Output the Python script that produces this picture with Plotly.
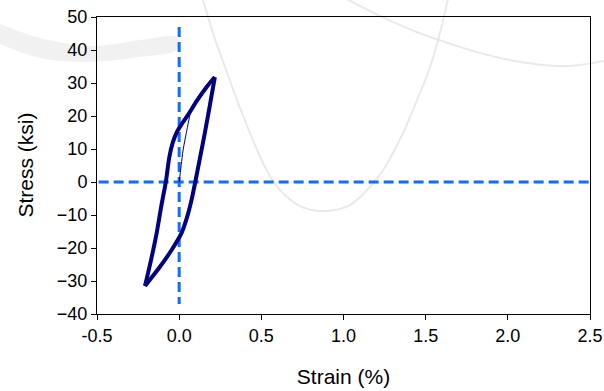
import plotly.graph_objects as go

# Hysteresis loop: loading branch (trough -> peak)
load_strain = [-0.208, -0.171, -0.137, -0.111, -0.081, -0.060, -0.040, -0.015, 0.020, 0.060, 0.106, 0.166, 0.217]
load_stress = [-31.5, -23.6, -15.5, -7.9, 0.1, 7.5, 11.8, 15.0, 17.9, 20.8, 24.5, 28.7, 31.8]
# Unloading branch (peak -> trough)
unload_strain = [0.217, 0.187, 0.156, 0.127, 0.098, 0.075, 0.049, 0.014, -0.046, -0.117, -0.208]
unload_stress = [31.8, 23.3, 14.8, 7.4, 0.0, -5.5, -10.5, -15.5, -20.6, -25.7, -31.5]
# Initial monotonic loading (thin line)
init_strain = [0.0, 0.012, 0.024, 0.035, 0.055, 0.070]
init_stress = [0.0, 5.0, 9.7, 12.7, 17.8, 21.5]

# Reference (zero) lines
vline_strain = [0.0, 0.0]
vline_stress = [47.0, -37.0]
hline_strain = [-0.49, 2.5]
hline_stress = [0.0, 0.0]

x_ticks = [-0.5, 0.0, 0.5, 1.0, 1.5, 2.0, 2.5]
x_labels = ["-0.5", "0.0", "0.5", "1.0", "1.5", "2.0", "2.5"]
y_ticks = [-40, -30, -20, -10, 0, 10, 20, 30, 40, 50]

NAVY = "#000080"
BLUE = "#0f6dff"

fig = go.Figure()
fig.add_trace(go.Scatter(x=hline_strain, y=hline_stress, mode="lines",
                         line=dict(color=BLUE, width=3, dash="10px,5px"), showlegend=False))
fig.add_trace(go.Scatter(x=vline_strain, y=vline_stress, mode="lines",
                         line=dict(color=BLUE, width=3, dash="10px,5px"), showlegend=False))
fig.add_trace(go.Scatter(x=init_strain, y=init_stress, mode="lines",
                         line=dict(color=NAVY, width=1, shape="spline"), showlegend=False))
fig.add_trace(go.Scatter(x=load_strain, y=load_stress,
                         mode="lines", line=dict(color=NAVY, width=4, shape="spline", smoothing=0.8),
                         showlegend=False))
fig.add_trace(go.Scatter(x=unload_strain, y=unload_stress,
                         mode="lines", line=dict(color=NAVY, width=4, shape="spline", smoothing=0.8),
                         showlegend=False))

# faint watermark decoration (paper coordinates, smoothed)
def smooth(pts, n=8):
    out = []
    m = len(pts)
    for i in range(m - 1):
        p0 = pts[max(i - 1, 0)]
        p1 = pts[i]
        p2 = pts[i + 1]
        p3 = pts[min(i + 2, m - 1)]
        for k in range(n):
            t = k / n
            t2, t3 = t * t, t * t * t
            x = 0.5 * ((2 * p1[0]) + (-p0[0] + p2[0]) * t + (2 * p0[0] - 5 * p1[0] + 4 * p2[0] - p3[0]) * t2
                       + (-p0[0] + 3 * p1[0] - 3 * p2[0] + p3[0]) * t3)
            y = 0.5 * ((2 * p1[1]) + (-p0[1] + p2[1]) * t + (2 * p0[1] - 5 * p1[1] + 4 * p2[1] - p3[1]) * t2
                       + (-p0[1] + 3 * p1[1] - 3 * p2[1] + p3[1]) * t3)
            out.append((x, y))
    out.append(pts[-1])
    return out


def P(pts):
    L, T, W, H = 97, 17, 493, 297
    out = []
    for i, (x, y) in enumerate(smooth(pts)):
        xp = (x - L) / W
        yp = (T + H - y) / H
        out.append(("M" if i == 0 else "L") + f"{xp:.4f},{yp:.4f}")
    return " ".join(out)

wm_color = "rgba(215,215,215,0.55)"
parab = [(200, -10), (213, 33), (225, 67), (237, 100), (250, 133), (265, 167), (280, 190),
         (300, 206), (323, 211), (348, 206), (367, 190), (385, 167), (403, 133), (417, 100),
         (430, 67), (440, 33), (450, -10)]
arc2 = [(330, -10), (380, 16), (433, 38), (500, 58), (560, 66), (604, 61), (630, 55)]
swoosh = [(0, 24), (40, 38), (90, 46), (140, 40), (172, 36), (180, 43), (174, 52), (140, 57),
          (90, 62), (40, 58), (0, 44)]
fig.add_shape(type="path", path=P(parab), xref="paper", yref="paper", layer="below",
              line=dict(color=wm_color, width=2))
fig.add_shape(type="path", path=P(arc2), xref="paper", yref="paper", layer="below",
              line=dict(color=wm_color, width=2))
fig.add_shape(type="path", path=P(swoosh) + " Z", xref="paper", yref="paper", layer="below",
              fillcolor="rgba(225,225,225,0.45)", line=dict(width=0))

FONT = "Liberation Sans, Arial"
axis_common = dict(showline=True, linecolor="black", linewidth=1, mirror=True,
                   ticks="outside", ticklen=5, tickcolor="black", tickwidth=1,
                   showgrid=False, zeroline=False, automargin=False,
                   tickfont=dict(family=FONT, size=18, color="black"))

fig.update_xaxes(range=[-0.5, 2.5], tickvals=x_ticks, ticktext=x_labels,
                 title=dict(text="Strain (%)", font=dict(family=FONT, size=21, color="black"),
                            standoff=24),
                 **axis_common)
fig.update_yaxes(range=[-40, 50], tickvals=y_ticks, **axis_common)

# y-axis title placed as annotation for exact position
fig.add_annotation(text="Stress (ksi)", xref="paper", yref="paper",
                   x=(25 - 97) / 493, y=0.5, xanchor="center", yanchor="middle",
                   textangle=-90, showarrow=False,
                   font=dict(family=FONT, size=21, color="black"))

fig.update_layout(width=604, height=391, margin=dict(l=97, r=14, t=17, b=77),
                  plot_bgcolor="white", paper_bgcolor="white", showlegend=False)

fig.write_html("out.html")
